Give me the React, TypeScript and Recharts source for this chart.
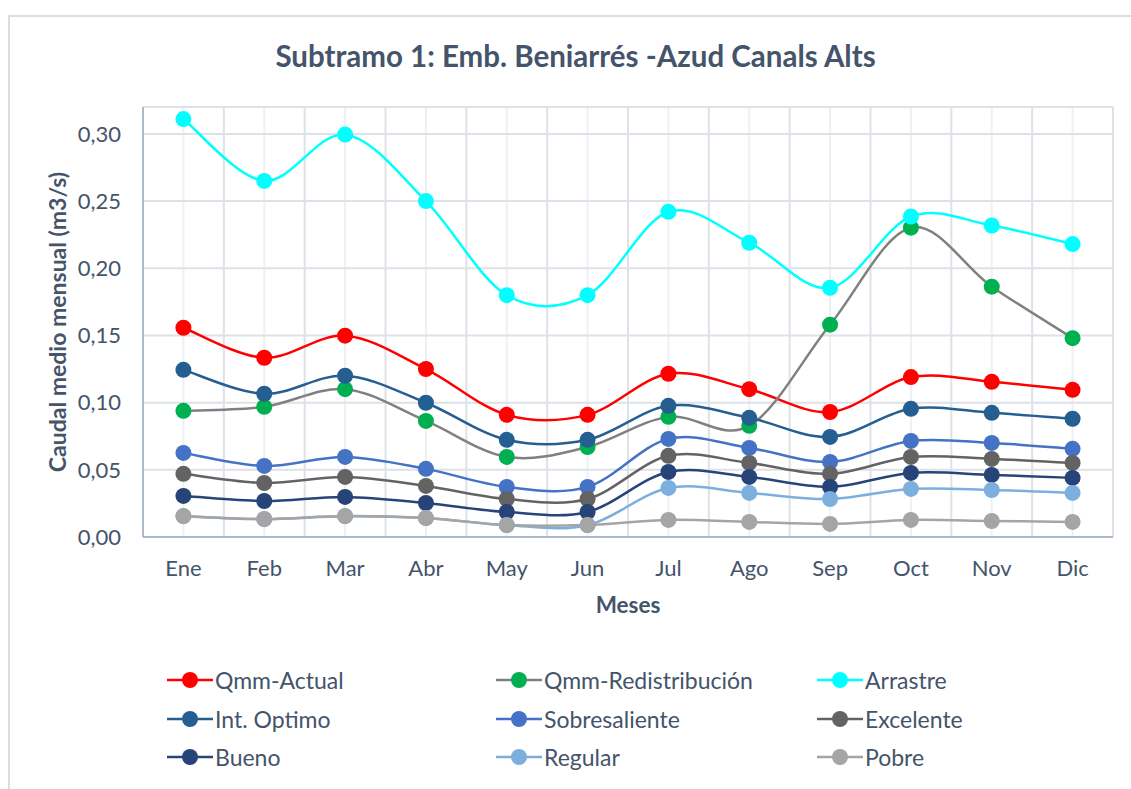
import React from 'react';
import { LineChart, Line, XAxis, YAxis, CartesianGrid, Legend } from 'recharts';

const months = ['Ene', 'Feb', 'Mar', 'Abr', 'May', 'Jun', 'Jul', 'Ago', 'Sep', 'Oct', 'Nov', 'Dic'];

const qmmActual = [0.1557, 0.1334, 0.1498, 0.125, 0.0909, 0.0909, 0.1215, 0.110, 0.093, 0.119, 0.1155, 0.1095];
const qmmRedistribucion = [0.0939, 0.0969, 0.110, 0.0864, 0.0596, 0.067, 0.0894, 0.0827, 0.158, 0.2302, 0.1863, 0.148];
const arrastre = [0.311, 0.265, 0.2995, 0.250, 0.180, 0.180, 0.242, 0.219, 0.1855, 0.2385, 0.2318, 0.218];
const intOptimo = [0.1244, 0.1066, 0.120, 0.0999, 0.0723, 0.0723, 0.0976, 0.0887, 0.0745, 0.0954, 0.0924, 0.088];
const sobresaliente = [0.0626, 0.0529, 0.0596, 0.0507, 0.0373, 0.0373, 0.073, 0.0663, 0.0559, 0.0715, 0.070, 0.0656];
const excelente = [0.047, 0.0402, 0.0447, 0.038, 0.0283, 0.0283, 0.0604, 0.0551, 0.047, 0.0596, 0.0581, 0.0551];
const bueno = [0.0306, 0.0268, 0.0298, 0.0253, 0.0186, 0.0186, 0.0484, 0.0447, 0.0373, 0.0477, 0.0462, 0.044];
const regular = [0.0155, 0.0133, 0.0155, 0.0141, 0.0088, 0.0088, 0.0365, 0.0328, 0.0283, 0.0358, 0.035, 0.0328];
const pobre = [0.0156, 0.0134, 0.0156, 0.0142, 0.0089, 0.0089, 0.0127, 0.0112, 0.0097, 0.0127, 0.0119, 0.0112];

const yTicks = [0, 0.05, 0.1, 0.15, 0.2, 0.25, 0.3];
const gridTicks = [0, 1, 2, 3, 4, 5, 6, 7, 8, 9, 10, 11, 12];

const series = [
  { key: 'qmmActual', name: 'Qmm-Actual', values: qmmActual, line: '#FF0000', dot: '#FF0000' },
  { key: 'qmmRedistribucion', name: 'Qmm-Redistribución', values: qmmRedistribucion, line: '#808080', dot: '#00B050' },
  { key: 'arrastre', name: 'Arrastre', values: arrastre, line: '#00FFFF', dot: '#00FFFF' },
  { key: 'intOptimo', name: 'Int. Optimo', values: intOptimo, line: '#255E91', dot: '#255E91' },
  { key: 'sobresaliente', name: 'Sobresaliente', values: sobresaliente, line: '#4472C4', dot: '#4472C4' },
  { key: 'excelente', name: 'Excelente', values: excelente, line: '#636363', dot: '#636363' },
  { key: 'bueno', name: 'Bueno', values: bueno, line: '#264478', dot: '#264478' },
  { key: 'regular', name: 'Regular', values: regular, line: '#7CAFDD', dot: '#7CAFDD' },
  { key: 'pobre', name: 'Pobre', values: pobre, line: '#A5A5A5', dot: '#A5A5A5' },
];

const data = months.map((m, i) => {
  const row: any = { mes: m, idx: i + 0.5 };
  series.forEach(s => { row[s.key] = s.values[i]; });
  return row;
});

// excel style smoothing (catmull-rom, 1/6 handles)
const excelSmooth = (context: any) => {
  let pts: number[][] = [];
  return {
    areaStart() {},
    areaEnd() {},
    lineStart() { pts = []; },
    point(x: number, y: number) { pts.push([+x, +y]); },
    lineEnd() {
      if (!pts.length) return;
      context.moveTo(pts[0][0], pts[0][1]);
      for (let i = 0; i < pts.length - 1; i++) {
        const p0 = pts[i - 1] || pts[i];
        const p1 = pts[i];
        const p2 = pts[i + 1];
        const p3 = pts[i + 2] || pts[i + 1];
        context.bezierCurveTo(
          p1[0] + (p2[0] - p0[0]) / 6, p1[1] + (p2[1] - p0[1]) / 6,
          p2[0] - (p3[0] - p1[0]) / 6, p2[1] - (p3[1] - p1[1]) / 6,
          p2[0], p2[1]
        );
      }
    },
  };
};

const FONT = 'Lato, "Open Sans", sans-serif';
const TEXT = '#44546A';

const LegendBox = () => (
  <div style={{ position: 'relative', width: 850, height: 120, fontFamily: FONT, fontSize: 23, color: TEXT }}>
    {series.map((s, i) => {
      const col = i % 3;
      const row = Math.floor(i / 3);
      return (
        <div key={s.key} style={{ position: 'absolute', left: [0, 329, 650][col], top: row * 38.5, display: 'flex', alignItems: 'center', height: 30 }}>
          <svg width={46} height={20} style={{ marginRight: 2 }}>
            <line x1={0} y1={10} x2={46} y2={10} stroke={s.line} strokeWidth={2.5} />
            <circle cx={23} cy={10} r={8} fill={s.dot} />
          </svg>
          <span>{s.name}</span>
        </div>
      );
    })}
  </div>
);

export default function App() {
  return (
    <div style={{ position: 'absolute', left: 0, top: 0, width: 1131, height: 789, background: '#fff', fontFamily: FONT }}>
      <div style={{ position: 'absolute', left: 8, top: 15, width: 1130, height: 800, border: '2px solid #DADDE3' }} />
      <div style={{ position: 'absolute', left: 0, width: 1151, top: 38, textAlign: 'center', fontSize: 29.5, fontWeight: 700, color: TEXT }}>
        Subtramo 1: Emb. Beniarrés -Azud Canals Alts
      </div>
      <div style={{ position: 'absolute', left: 57, top: 322, transform: 'translate(-50%, -50%) rotate(-90deg)', whiteSpace: 'nowrap', fontSize: 23, fontWeight: 700, color: TEXT }}>
        Caudal medio mensual (m3/s)
      </div>
      <div style={{ position: 'absolute', left: 628, top: 591, transform: 'translateX(-50%)', fontSize: 22.5, fontWeight: 700, color: TEXT }}>
        Meses
      </div>
      <div style={{ position: 'absolute', left: 0, top: 0 }}>
        <LineChart width={1131} height={789} data={data} margin={{ top: 107, right: 18, bottom: 0, left: 0 }}>
          <XAxis xAxisId="grid" dataKey="idx" type="number" domain={[0, 12]} ticks={gridTicks} hide />
          <CartesianGrid stroke="#EEF0F4" strokeWidth={2} horizontal={false} />
          <CartesianGrid xAxisId="grid" stroke="#DDE1E8" strokeWidth={2} horizontal={false} />
          <CartesianGrid stroke="#DDE1E8" strokeWidth={2} vertical={false} />
          <XAxis dataKey="mes" scale="band" height={252} axisLine={{ stroke: '#ADB9CA', strokeWidth: 2 }} tickLine={false} tick={{ fill: TEXT, fontSize: 22, fontFamily: FONT }} dy={15} interval={0} />
          <YAxis width={143} domain={[0, 0.32]} ticks={yTicks} tickFormatter={(v: number) => v.toFixed(2).replace('.', ',')} axisLine={{ stroke: '#ADB9CA', strokeWidth: 2 }} tickLine={false} tick={{ fill: TEXT, fontSize: 22, fontFamily: FONT }} dx={-14} allowDataOverflow />
          {series.map(s => (
            <Line
              key={s.key}
              dataKey={s.key}
              name={s.name}
              type={excelSmooth as any}
              stroke={s.line}
              strokeWidth={2.5}
              dot={{ r: 8, fill: s.dot, stroke: s.dot, strokeWidth: 0 }}
              isAnimationActive={false}
            />
          ))}
          <Legend layout="horizontal" verticalAlign="middle" align="center" wrapperStyle={{ top: 665, left: 167, width: 850 }} content={() => <LegendBox />} />
        </LineChart>
      </div>
    </div>
  );
}
